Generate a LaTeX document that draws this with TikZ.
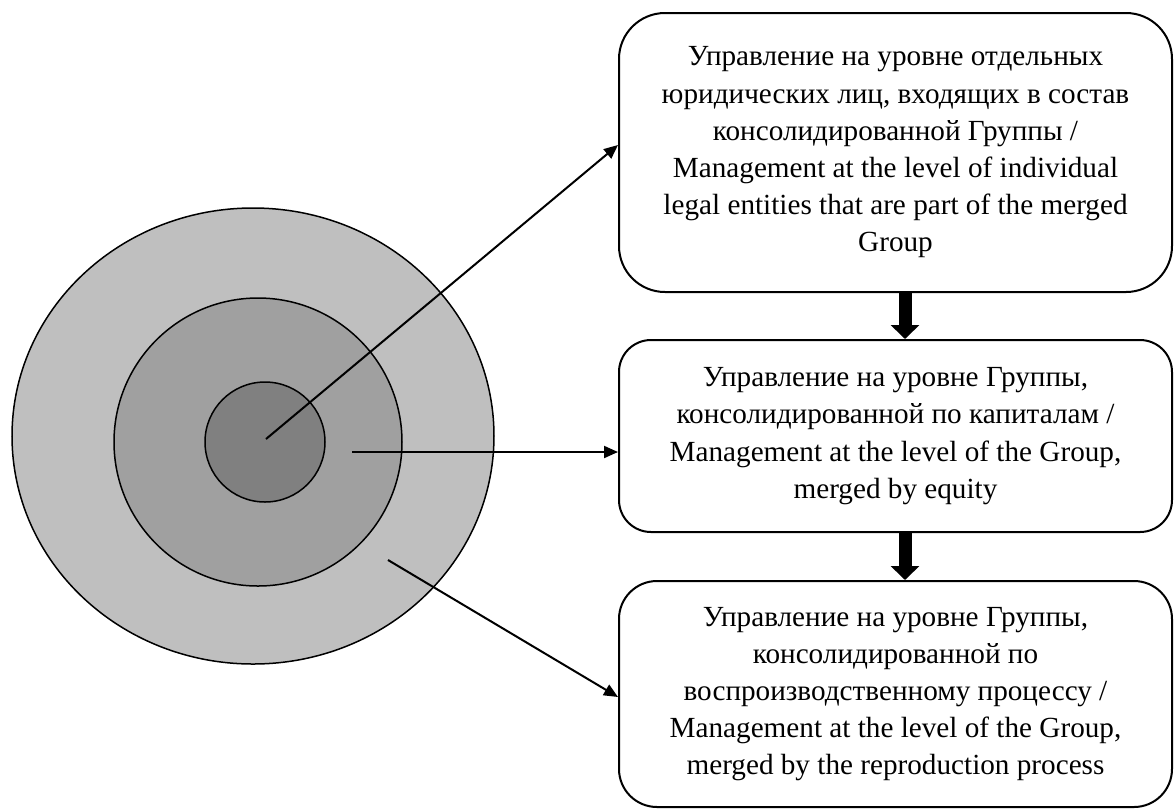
\documentclass[tikz,border=0pt]{standalone}
\usepackage{fontspec}
\setmainfont{Liberation Serif}
\usetikzlibrary{arrows.meta}
\definecolor{ringout}{RGB}{191,191,191}
\definecolor{ringmid}{RGB}{160,160,160}
\definecolor{ringin}{RGB}{128,128,128}

\begin{document}
\begin{tikzpicture}[x=0.5pt,y=-0.5pt,
    box/.style={draw,line width=1pt,rounded corners=#1,minimum width=276.5pt,inner sep=0pt,
      align=center,font=\fontsize{14.6}{18.6}\selectfont},
    ptr/.style={line width=1pt,-{Triangle[length=7pt,width=6pt]}},
    fat/.style={line width=6.5pt,-{Triangle[length=7pt,width=14pt]}}]
  \useasboundingbox (0,0) rectangle (1175,811);
  % rings
  \filldraw[fill=ringout,line width=0.75pt] (253,436) ellipse [x radius=241,y radius=228];
  \filldraw[fill=ringmid,line width=0.75pt] (258,442) circle [radius=144];
  \filldraw[fill=ringin,line width=0.75pt] (265,442) circle [radius=60];
  \coordinate (core) at (266,439);
  \coordinate (mid) at (352,452);
  \coordinate (rim) at (388,560);
  % levels
  \node[box=23pt,minimum height=139.5pt] (lvla) at (895.5,152.5) {Управление на уровне отдельных\\
    юридических лиц, входящих в состав\\ консолидированной Группы /\\
    Management at the level of individual\\ legal entities that are part of the merged\\ Group};
  \node[box=16pt,minimum height=96pt] (lvlb) at (895.5,436) {Управление на уровне Группы,\\
    консолидированной по капиталам /\\ Management at the level of the Group,\\ merged by equity};
  \node[box=19pt,minimum height=113pt] (lvlc) at (895.5,694) {Управление на уровне Группы,\\
    консолидированной по\\ воспроизводственному процессу /\\
    Management at the level of the Group,\\ merged by the reproduction process};
  \draw[ptr] (core) -- (lvla.west |- 0,145);
  \draw[ptr] (mid) -- (lvlb.west |- mid);
  \draw[ptr] (rim) -- (lvlc.west |- 0,697);
  \draw[fat] ([xshift=4.75pt]lvla.south) -- ([xshift=4.75pt]lvlb.north);
  \draw[fat] ([xshift=4.75pt]lvlb.south) -- ([xshift=4.75pt]lvlc.north);
\end{tikzpicture}
\end{document}
